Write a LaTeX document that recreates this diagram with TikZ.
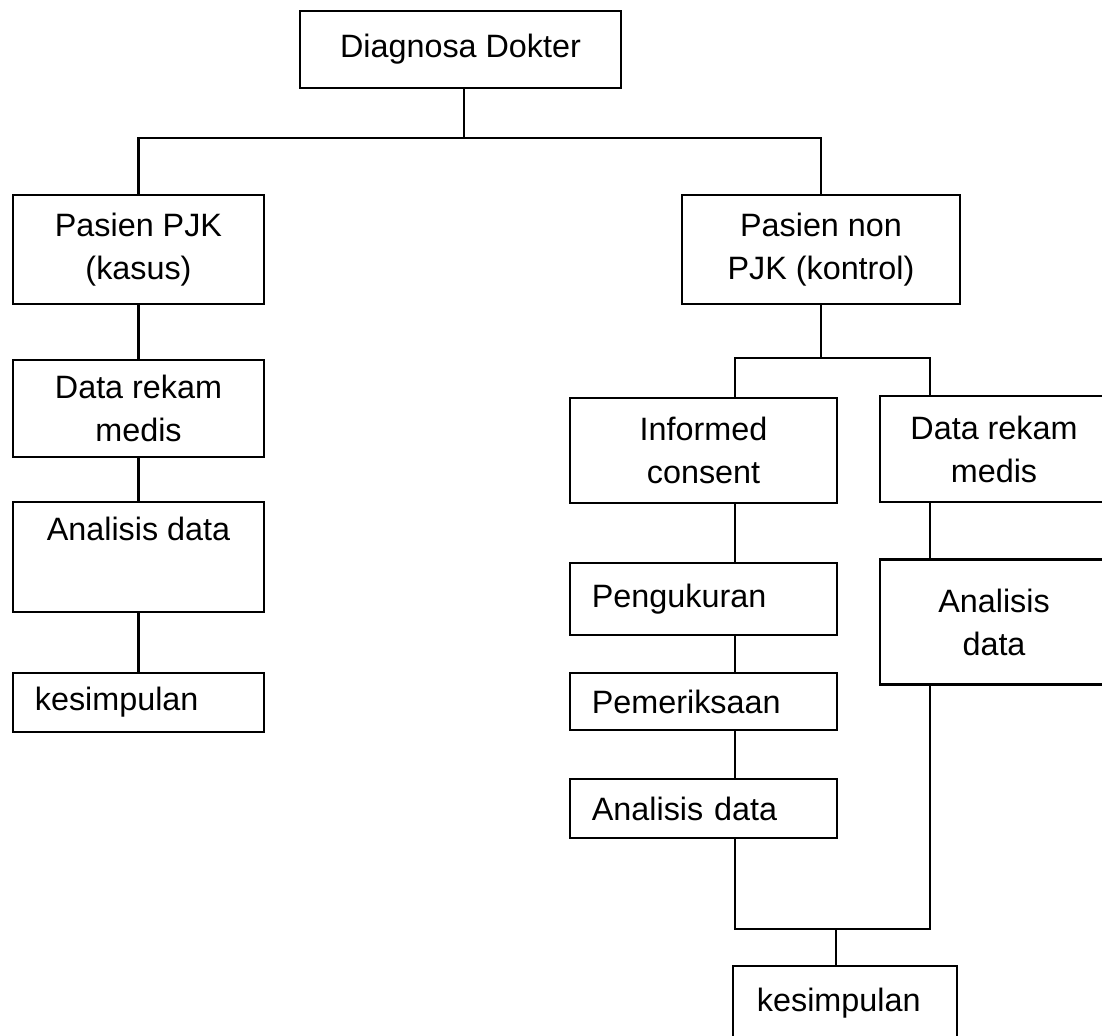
\documentclass[tikz,border=0pt]{standalone}
\usepackage{fontspec}
\setmainfont{Liberation Sans}
\usetikzlibrary{positioning}
\newcommand\chartfont{\fontsize{23}{30.6}\selectfont}

\begin{document}
\begin{tikzpicture}[x=0.025cm,y=-0.025cm,
    box/.style={draw,line width=1.6pt,inner sep=0pt,align=center,font=\chartfont},
    lbox/.style={box,align=left,inner xsep=0.55cm},
    link/.style={line width=1.5pt}]
  \useasboundingbox (0,0) rectangle (1102,1036);
  % top
  \node[box,minimum width=8.03cm,minimum height=1.93cm] (diag) at (460.5,49.5) {Diagnosa Dokter};
  \node[box,minimum width=6.28cm,minimum height=2.73cm] (kasus) at (138.5,249.5) {Pasien PJK\\(kasus)};
  \node[box,minimum width=6.95cm,minimum height=2.73cm] (kontrol) at (821,249.5) {Pasien non\\PJK (kontrol)};
  % left column
  \node[box,minimum width=6.28cm,minimum height=2.43cm] (rekamL) at (138.5,408.5) {Data rekam\\medis};
  \node[box,minimum width=6.28cm,minimum height=2.75cm] (analisisL) at (138.5,557) {Analisis data\\\strut};
  \node[lbox,text width=5.18cm,minimum height=1.48cm] (kesimpulanL) at (138.5,702.5) {kesimpulan};
  % right columns
  \node[box,minimum width=6.68cm,minimum height=2.63cm] (consent) at (703.5,450.5) {Informed\\consent};
  \node[box,minimum width=5.7cm,minimum height=2.65cm] (rekamR) at (994,449) {Data rekam\\medis};
  \node[lbox,text width=5.58cm,minimum height=1.8cm] (pengukuran) at (703.5,599) {Pengukuran};
  \node[box,minimum width=5.7cm,minimum height=3.13cm] (analisisR) at (994,622) {Analisis\\data};
  \node[lbox,text width=5.58cm,minimum height=1.43cm] (pemeriksaan) at (703.5,701.5) {Pemeriksaan};
  \node[lbox,text width=5.58cm,minimum height=1.48cm] (analisisM) at (703.5,808.5) {Analisis data};
  \node[lbox,inner xsep=0.6cm,text width=4.4cm,minimum height=1.85cm] (kesimpulanR) at (845,1003) {kesimpulan};

  \coordinate (split) at (0,138);
  \coordinate (fork) at (0,358);
  \coordinate (join) at (0,929);
  \coordinate (spine) at (735,0);
  \coordinate (rspine) at (930,0);
  \coordinate (mid) at (836,0);
  \coordinate (top) at (464,0);

  % connectors
  \draw[link] (diag.south -| top) -- (split -| top);
  \draw[link] (kasus.north) -- (kasus.north |- split) -- (kontrol.north |- split) -- (kontrol.north);
  \draw[link] (kasus.south) -- (rekamL.north);
  \draw[link] (rekamL.south) -- (analisisL.north);
  \draw[link] (analisisL.south) -- (kesimpulanL.north);
  \draw[link] (kontrol.south) -- (kontrol.south |- fork);
  \draw[link] (consent.north -| spine) -- (fork -| spine) -- (fork -| rspine) -- (rekamR.north -| rspine);
  \draw[link] (consent.south -| spine) -- (pengukuran.north -| spine);
  \draw[link] (pengukuran.south -| spine) -- (pemeriksaan.north -| spine);
  \draw[link] (pemeriksaan.south -| spine) -- (analisisM.north -| spine);
  \draw[link] (rekamR.south -| rspine) -- (analisisR.north -| rspine);
  \draw[link] (analisisM.south -| spine) -- (join -| spine) -- (join -| rspine) -- (analisisR.south -| rspine);
  \draw[link] (join -| mid) -- (kesimpulanR.north -| mid);
\end{tikzpicture}
\end{document}
